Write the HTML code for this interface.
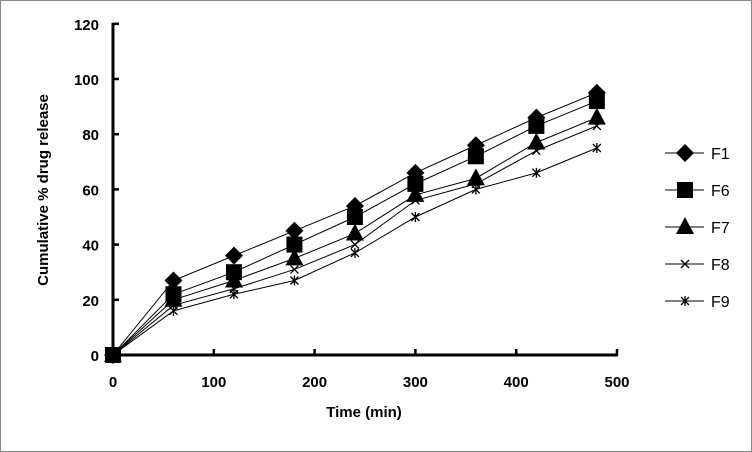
<!DOCTYPE html>
<html><head><meta charset="utf-8"><style>
body{margin:0;background:#fff}
svg{display:block;font-family:"Liberation Sans",Arial,sans-serif}
</style></head><body>
<svg width="752" height="452">
<rect x="0.5" y="0.5" width="751" height="451" fill="#fff" stroke="#888"/>
<g id="plot"></g>
<text x="0" y="0" transform="translate(48,190) rotate(-90)" text-anchor="middle" font-size="15" font-weight="bold">Cumulative % drug release</text>
<text x="364" y="417" text-anchor="middle" font-size="15" font-weight="bold">Time (min)</text>
</svg>
<script>
const times=[0,60,120,180,240,300,360,420,480];
const seriesNames=["F1","F6","F7","F8","F9"];
const f1=[0,27,36,45,54,66,76,86,95];
const f6=[0,22,30,40,50,62,72,83,92];
const f7=[0,20,27,35,44,58,64,77,86];
const f8=[0,18,24,31,40,56,62,74,83];
const f9=[0,16,22,27,37,50,60,66,75];
const xTicks=[0,100,200,300,400,500];
const yTicks=[0,20,40,60,80,100,120];
const ns="http://www.w3.org/2000/svg";
const g=document.getElementById('plot');
const X=v=>113+v*1.008, Y=v=>355-v*2.76;
function el(t,a){const e=document.createElementNS(ns,t);for(const k in a)e.setAttribute(k,a[k]);g.appendChild(e);return e;}
let e;
e=el('line',{x1:113,y1:Y(120)-1,x2:113,y2:356,stroke:'#000','stroke-width':3});


e=el('line',{x1:112,y1:355,x2:X(500)+1,y2:355,stroke:'#000','stroke-width':3});


yTicks.forEach(v=>{
 e=el('line',{x1:113,y1:Y(v),x2:119,y2:Y(v),stroke:'#000','stroke-width':2.5});
 
 
 e=el('text',{x:99,y:Y(v)+6,'text-anchor':'end','font-size':15,'font-weight':'bold'});e.textContent=v;
 
 
});
xTicks.forEach(v=>{
 e=el('line',{x1:X(v),y1:349,x2:X(v),y2:355,stroke:'#000','stroke-width':2.5});
 
 
 e=el('text',{x:X(v),y:387,'text-anchor':'middle','font-size':15,'font-weight':'bold'});e.textContent=v;
 
 
});
function marker(kind,x,y){
 let m;
 if(kind==0)m=el('polygon',{points:`${x},${y-9} ${x+9},${y} ${x},${y+9} ${x-9},${y}`,fill:'#000'});
 else if(kind==1)m=el('rect',{x:x-8,y:y-8,width:16,height:16,fill:'#000'});
 else if(kind==2)m=el('polygon',{points:`${x},${y-10} ${x+9},${y+7} ${x-9},${y+7}`,fill:'#000'});
 else if(kind==3)m=el('path',{d:`M${x-4},${y-4}L${x+4},${y+4}M${x+4},${y-4}L${x-4},${y+4}`,stroke:'#000','stroke-width':1.3});
 else m=el('path',{d:`M${x-4},${y-4}L${x+4},${y+4}M${x+4},${y-4}L${x-4},${y+4}M${x},${y-5}L${x},${y+5}`,stroke:'#000','stroke-width':1.3});
 return m;
}
[f1,f6,f7,f8,f9].forEach((s,i)=>{
 const p=el('polyline',{points:s.map((v,j)=>X(times[j])+','+Y(v)).join(' '),fill:'none',stroke:'#000','stroke-width':1});
 
 
 s.forEach((v,j)=>{const m=marker(i,X(times[j]),Y(v));
  
  });
 const ly=153+i*37;
 e=el('line',{x1:665,y1:ly,x2:704,y2:ly,stroke:'#000'});
 
 
 const lm=marker(i,685,ly);
 
 
 e=el('text',{x:711,y:ly+6,'font-size':16});e.textContent=seriesNames[i];
 
 
});
</script>
</body></html>
